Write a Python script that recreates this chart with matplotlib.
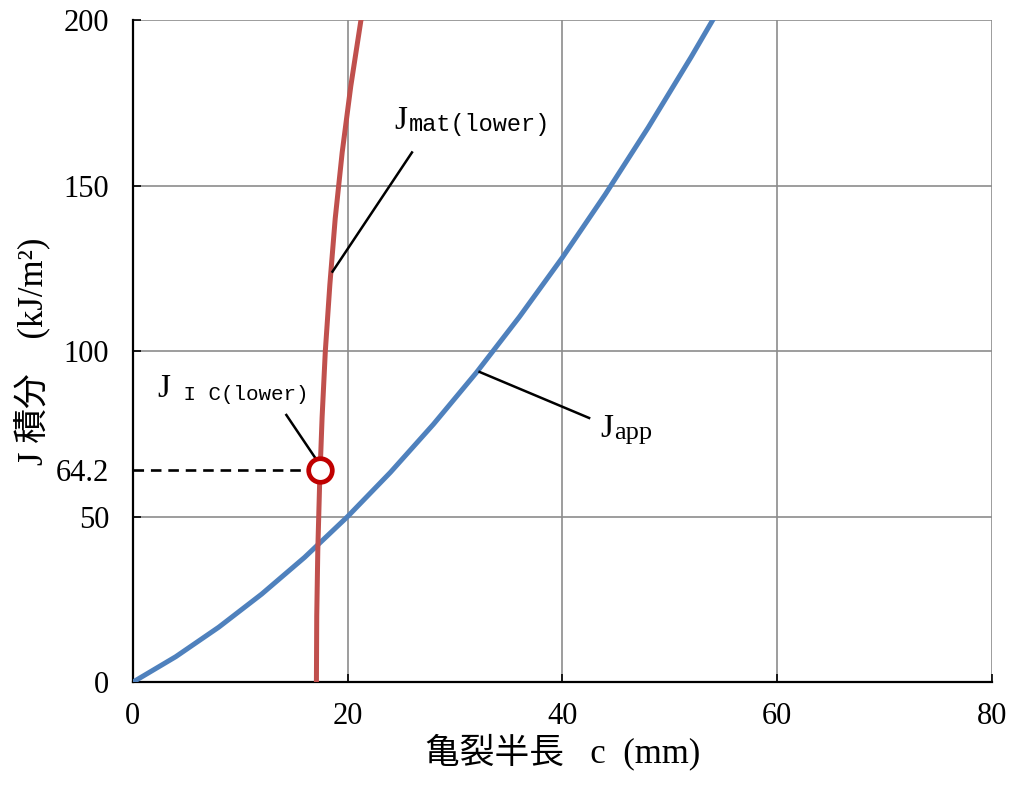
import numpy as np
import matplotlib.pyplot as plt

plt.rcParams['font.family'] = ['Liberation Serif', 'Noto Sans CJK JP']

# Japp curve (blue)
app_c = [0, 4, 8, 12, 16, 20, 24, 28, 32, 36, 40, 44, 48, 52, 54]
app_j = [0, 7.7, 16.6, 26.6, 37.7, 50.0, 63.4, 77.9, 93.5, 110.3, 128.2, 147.3, 167.5, 188.8, 199.9]

# Jmat(lower) curve (red)
mat_c = [17.1, 17.13, 17.23, 17.4, 17.63, 17.93, 18.35, 18.85, 19.5, 20.3, 21.25]
mat_j = [0, 20, 40, 60, 80, 100, 120, 140, 160, 180, 200]

jic_c = 17.45
jic_j = 64.2

xticks = [0, 20, 40, 60, 80]
yticks = [0, 50, 64.2, 100, 150, 200]
yticklabels = ["0", "50", "64.2", "100", "150", "200"]

fig = plt.figure(figsize=(10.14, 7.85), dpi=100)
ax = fig.add_axes([0.131, 0.131, 0.847, 0.8435])

ax.plot(app_c, app_j, color="#4F81BD", lw=3.6, zorder=3, solid_joinstyle="round")
ax.plot(mat_c, mat_j, color="#C0504D", lw=3.6, zorder=3, solid_joinstyle="round")
ax.plot([0, jic_c], [jic_j, jic_j], color="black", lw=1.9, ls=(0, (4, 2.6)), zorder=2)
ax.plot([jic_c], [jic_j], marker="o", ms=17, mfc="white", mec="#C00000", mew=3.4, zorder=5)

ax.set_xlim(0, 80)
ax.set_ylim(0, 200)
ax.set_xticks(xticks)
ax.set_yticks(yticks)
ax.set_yticklabels(yticklabels)
ax.tick_params(direction="in", length=6, width=1.2, labelsize=22)
ax.tick_params(axis="x", pad=14)
ax.tick_params(axis="y", pad=17)
ax.yaxis.get_major_ticks()[2].tick1line.set_visible(False)

for v in [20, 40, 60, 80]:
    ax.axvline(v, color="#8c8c8c", lw=1.2, zorder=1)
for v in [50, 100, 150, 200]:
    ax.axhline(v, color="#8c8c8c", lw=1.2, zorder=1)
for s in ax.spines.values():
    s.set_linewidth(1.6)
ax.spines["top"].set_visible(False)
ax.spines["right"].set_visible(False)

ax.set_xlabel("亀裂半長   c  (mm)", fontsize=25, labelpad=2)
ax.set_ylabel("J 積分　(kJ/m²)", fontsize=25, labelpad=4)

# leader lines
ax.plot([26.0, 18.6], [160, 124], color="black", lw=1.8, zorder=4)
ax.plot([42.5, 32.3], [79.8, 93.7], color="black", lw=1.8, zorder=4)
ax.plot([14.3, 17.0], [80.7, 67.7], color="black", lw=1.8, zorder=4)

# labels
t1 = ax.text(24.4, 167, "J", fontsize=24, ha="left", va="baseline")
ax.annotate("mat(lower)", xy=(1, 0), xycoords=t1, xytext=(1, 0),
            textcoords="offset points", fontsize=17, family="Liberation Mono",
            va="bottom", ha="left")

t2 = ax.text(43.5, 74, "J", fontsize=24, ha="left", va="baseline")
ax.annotate("app", xy=(1, 0), xycoords=t2, xytext=(1, 0),
            textcoords="offset points", fontsize=19, va="bottom", ha="left")

t3 = ax.text(2.3, 86, "J", fontsize=24, ha="left", va="baseline")
ax.annotate(" I C(lower)", xy=(1, 0), xycoords=t3, xytext=(0, 0),
            textcoords="offset points", fontsize=15, family="Liberation Mono",
            va="bottom", ha="left")

fig.savefig("out.png", dpi=100)
